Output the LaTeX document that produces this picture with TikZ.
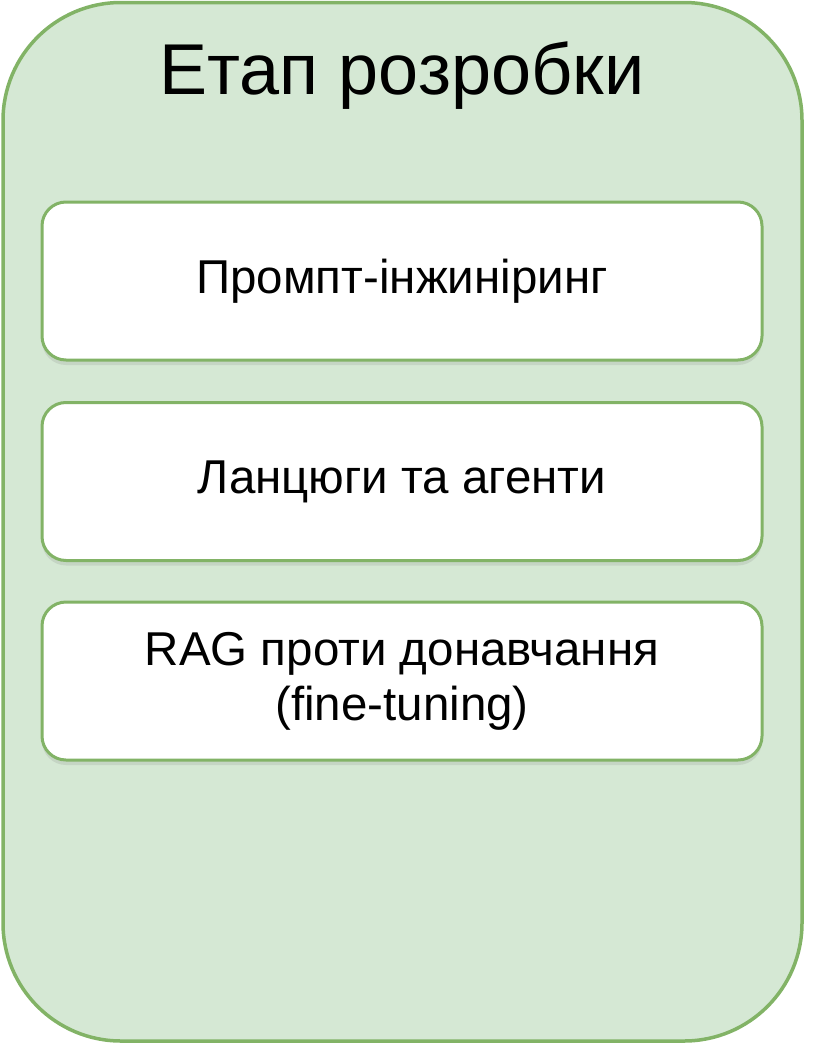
\documentclass[tikz,border=0pt]{standalone}
\usepackage{fontspec}
\setmainfont{Liberation Sans}
\usetikzlibrary{shadows}
\definecolor{gfill}{HTML}{D5E8D4}
\definecolor{gline}{HTML}{82B366}
\tikzset{
  outerbox/.style={draw=gline, fill=gfill, line width=3.5pt, rounded corners=118pt},
  itembox/.style={draw=gline, fill=white, line width=3pt, rounded corners=24pt,
    minimum width=720pt, minimum height=158pt, inner sep=0pt, align=center,
    font=\fontsize{47.5}{55}\selectfont,
    drop shadow={opacity=0.18, shadow xshift=0pt, shadow yshift=-5pt}},
}
\begin{document}
\begin{tikzpicture}[x=1pt,y=-1pt]
\useasboundingbox (0,0) rectangle (836,1044);
\draw[outerbox] (3,2.5) rectangle (802,1041);
\node[font=\fontsize{72}{80}\selectfont, anchor=base] (title) at (402,94) {Етап розробки};
\node[itembox] (b1) at (402,281) {Промпт-інжиніринг};
\node[itembox] (b2) at (402,481.5) {Ланцюги та агенти};
\node[itembox] (b3) at (402,681) {RAG проти донавчання\\(fine-tuning)};
\end{tikzpicture}
\end{document}
